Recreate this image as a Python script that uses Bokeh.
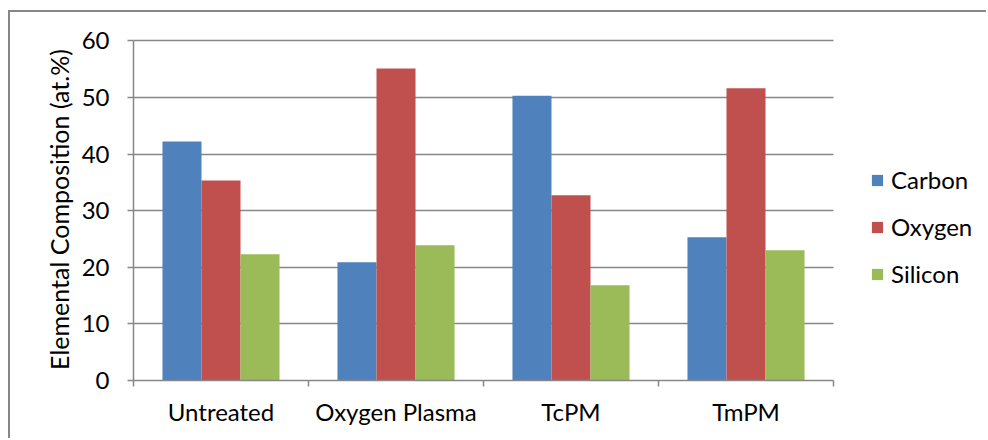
from bokeh.plotting import figure
from bokeh.models import (Range1d, FixedTicker, LinearAxis, Legend, LegendItem,
                          ColumnDataSource)
from bokeh.embed import file_html
from bokeh.resources import INLINE

categories = ["Untreated", "Oxygen Plasma", "TcPM", "TmPM"]
carbon = [42.2, 20.9, 50.3, 25.3]
oxygen = [35.3, 55.1, 32.7, 51.6]
silicon = [22.3, 23.9, 16.8, 23.0]
series_names = ["Carbon", "Oxygen", "Silicon"]
colors = ["#4F81BD", "#C0504D", "#9BBB59"]
y_ticks = [0, 10, 20, 30, 40, 50, 60]

FONT = "Lato"
GRID = "#878787"
TXT = "#000000"

# the figure is offset by its outer frame (left 8px + 2px line, top 10px + 2px line)
OX, OY = 10, 12
n = len(categories)
cat_px = 175.0                      # pixel width of one category
x_end = n + (988 - 833) / cat_px    # frame extends to right edge (legend lives there)

p = figure(width=988 - OX, height=440 - OY, output_backend="svg", toolbar_location=None,
           x_range=Range1d(0, x_end), y_range=Range1d(0, 60.4),
           x_axis_location=None, y_axis_location=None,
           min_border_left=133 - OX, min_border_right=0,
           min_border_top=int(round(40 - 0.4 * 5.667)) - OY,
           min_border_bottom=60)
p.outline_line_color = None
p.background_fill_color = "white"
p.border_fill_color = "white"
p.margin = (10, 0, 0, 8)
p.styles = {"border-top": "2px solid #878787", "border-left": "2px solid #878787"}

# y axis
yaxis = LinearAxis(ticker=FixedTicker(ticks=y_ticks), bounds=(0, 60))
yaxis.axis_line_color = GRID
yaxis.axis_line_width = 1.5
yaxis.major_tick_line_color = GRID
yaxis.major_tick_line_width = 1.5
yaxis.major_tick_out = 6
yaxis.major_tick_in = 0
yaxis.minor_tick_line_color = None
yaxis.major_label_text_font = FONT
yaxis.major_label_text_font_size = "24px"
yaxis.major_label_text_color = TXT
yaxis.major_label_standoff = 18
yaxis.axis_label = "Elemental Composition (at.%)"
yaxis.axis_label_text_font = FONT
yaxis.axis_label_text_font_size = "25px"
yaxis.axis_label_text_font_style = "normal"
yaxis.axis_label_text_color = TXT
yaxis.axis_label_standoff = 5
p.add_layout(yaxis, "left")

# x axis: labels at category centres, tick marks at category boundaries
centers = [i + 0.5 for i in range(n)]
bounds_x = list(range(n + 1))
xaxis = LinearAxis(ticker=FixedTicker(ticks=centers, minor_ticks=bounds_x),
                   major_label_overrides={c: name for c, name in zip(centers, categories)},
                   bounds=(0, n))
xaxis.axis_line_color = GRID
xaxis.axis_line_width = 1.5
xaxis.major_tick_line_color = None
xaxis.minor_tick_line_color = GRID
xaxis.minor_tick_line_width = 1.5
xaxis.minor_tick_out = 6
xaxis.minor_tick_in = 0
xaxis.major_label_text_font = FONT
xaxis.major_label_text_font_size = "24px"
xaxis.major_label_text_color = TXT
xaxis.major_label_standoff = 10
p.add_layout(xaxis, "below")

p.xgrid.visible = False
p.ygrid.ticker = FixedTicker(ticks=y_ticks)
p.ygrid.grid_line_color = GRID
p.ygrid.grid_line_width = 1.5
try:
    p.ygrid.cross_bounds = (0, n)
except Exception:
    p.ygrid.visible = False
    p.segment(x0=[0] * len(y_ticks), x1=[n] * len(y_ticks), y0=y_ticks, y1=y_ticks,
              line_color=GRID, line_width=1.5, level="underlay")

bw = 0.223
offsets = [-bw, 0.0, bw]
items = []
for name, vals, col, off in zip(series_names, [carbon, oxygen, silicon], colors, offsets):
    src = ColumnDataSource(dict(x=[c + off for c in centers], top=vals))
    r = p.vbar(x="x", top="top", bottom=0, width=bw, source=src,
               fill_color=col, line_color=None)
    items.append(LegendItem(label=name, renderers=[r]))

legend = Legend(items=items, location=(737, 92))
legend.glyph_width = 14
legend.glyph_height = 14
legend.label_standoff = 7
legend.label_height = 24
legend.spacing = 18
legend.label_text_font = FONT
legend.label_text_font_size = "24px"
legend.label_text_color = TXT
legend.border_line_color = None
legend.background_fill_alpha = 0
legend.padding = 0
legend.margin = 0
p.add_layout(legend, "center")

open("out.html", "w").write(file_html(p, INLINE))
